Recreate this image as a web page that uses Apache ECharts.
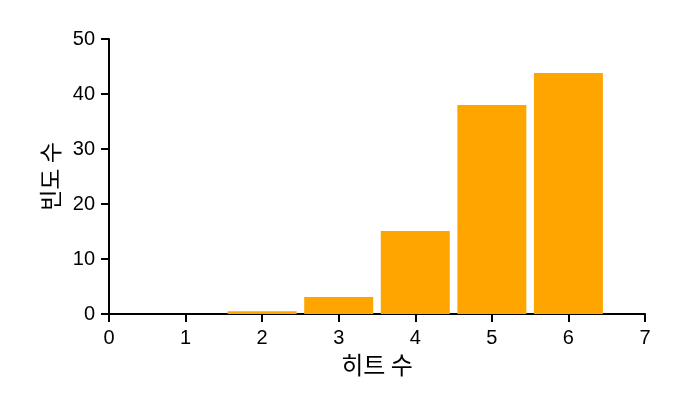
<!DOCTYPE html>
<html><head><meta charset="utf-8">
<script src="https://cdn.jsdelivr.net/npm/echarts@6/dist/echarts.min.js"></script>
<style>html,body{margin:0;padding:0;background:#fff}#c{width:689px;height:398px}</style>
</head><body><div id="c"></div>
<script>
const hits = [1, 2, 3, 4, 5, 6];
const counts = [0, 0.5, 3.1, 15.1, 38.0, 43.8];
const xTicks = [0, 1, 2, 3, 4, 5, 6, 7];
const yTicks = [0, 10, 20, 30, 40, 50];
const xName = '히트 수';
const yName = '빈도 수';

const chart = echarts.init(document.getElementById('c'));
const font = '"Liberation Sans", Arial, sans-serif';
const kfont = '"Noto Sans CJK KR", sans-serif';
chart.setOption({
  animation: false,
  grid: {left: 109, right: 44, top: 39, bottom: 84},
  xAxis: {
    type: 'value', min: xTicks[0], max: xTicks[xTicks.length-1], interval: 1,
    name: xName, nameLocation: 'middle', nameGap: 37,
    nameTextStyle: {fontSize: 24, color: '#000', fontFamily: kfont},
    axisLine: {lineStyle: {color: '#000', width: 2}},
    axisTick: {show: true, length: 8, lineStyle: {color: '#000', width: 2}},
    axisLabel: {fontSize: 20, color: '#000', margin: 14, fontFamily: font},
    splitLine: {show: false}
  },
  yAxis: {
    type: 'value', min: yTicks[0], max: yTicks[yTicks.length-1], interval: 10,
    name: yName, nameLocation: 'middle', nameGap: 47,
    nameTextStyle: {fontSize: 23, color: '#000', fontFamily: kfont},
    axisLine: {show: true, lineStyle: {color: '#000', width: 2}},
    axisTick: {show: true, length: 8, lineStyle: {color: '#000', width: 2}},
    axisLabel: {fontSize: 20, color: '#000', margin: 14, fontFamily: font},
    splitLine: {show: false}
  },
  series: [{
    type: 'bar',
    data: hits.map((h, i) => [h, counts[i]]),
    barWidth: 69,
    itemStyle: {color: '#FFA500'},
    z: 1
  }]
});
</script></body></html>
